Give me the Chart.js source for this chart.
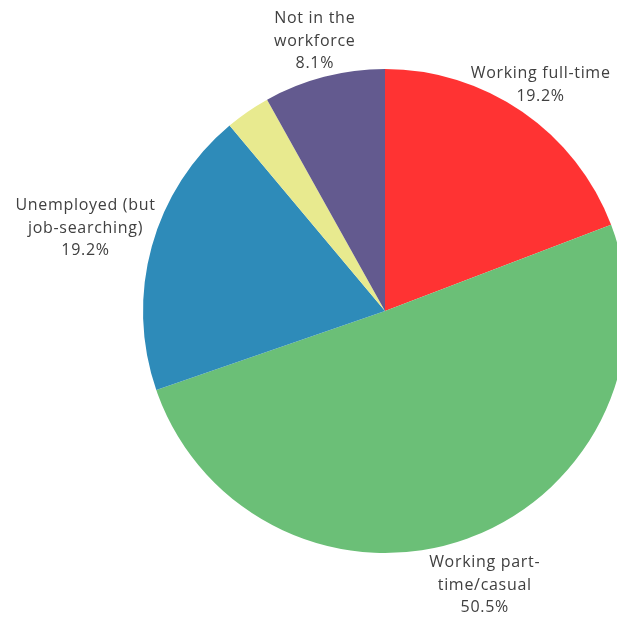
<!doctype html>
<html>

<head>
	<title>Employment status</title>
	<script src="https://cdn.jsdelivr.net/npm/chart.js@4/dist/chart.umd.min.js"></script>
	<style>
		html, body {
			margin: 0;
			padding: 0;
			overflow: hidden;
			background: #fff;
		}
		#wrap {
			position: relative;
			width: 770px;
			height: 618px;
		}
	</style>
</head>

<body>
	<div id="wrap">
		<canvas id="canvas"></canvas>
	</div>
	<script>
		const categories = ['Working full-time', 'Working part-time/casual', 'Unemployed (but job-searching)', 'Other', 'Not in the workforce'];
		const shares = [19.2, 50.5, 19.2, 3.0, 8.1];
		const labelLines = [
			['Working full-time'],
			['Working part-', 'time/casual'],
			['Unemployed (but', 'job-searching)'],
			[],
			['Not in the', 'workforce']
		];
		const sliceColors = ['#FF3333', '#6BBF77', '#2E8BB9', '#E8EA8F', '#635A8F'];
		// distance (px) between the pie edge and each label box
		const labelGaps = [5, 14, -4, 0, 2];

		// draws the category + percent label outside each slice, centred on its mid-angle ray
		const outsideLabels = {
			id: 'outsideLabels',
			afterDatasetsDraw(chart) {
				const ctx = chart.ctx;
				const meta = chart.getDatasetMeta(0);
				const lineH = 22.5;
				ctx.save();
				ctx.font = '16px "Open Sans", "Noto Sans", sans-serif';
				ctx.letterSpacing = '0.7px';
				ctx.fillStyle = '#404040';
				ctx.textAlign = 'center';
				ctx.textBaseline = 'middle';
				meta.data.forEach((arc, i) => {
					if (!labelLines[i].length) return;
					const p = arc.getProps(['x', 'y', 'startAngle', 'endAngle', 'outerRadius'], true);
					const mid = (p.startAngle + p.endAngle) / 2;
					const dx = Math.cos(mid);
					const dy = Math.sin(mid);
					const lines = labelLines[i].concat([shares[i].toFixed(1) + '%']);
					const w = Math.max(...lines.map(l => ctx.measureText(l).width));
					const h = lines.length * lineH;
					const half = Math.min(
						Math.abs(dx) > 1e-6 ? (w / 2) / Math.abs(dx) : Infinity,
						Math.abs(dy) > 1e-6 ? (h / 2) / Math.abs(dy) : Infinity
					);
					const d = p.outerRadius + labelGaps[i] + half;
					const cx = p.x + dx * d;
					const cy = p.y + dy * d;
					lines.forEach((l, k) => {
						ctx.fillText(l, cx, cy - h / 2 + lineH * (k + 0.5));
					});
				});
				ctx.restore();
			}
		};

		const config = {
			type: 'pie',
			data: {
				labels: categories,
				datasets: [{
					data: shares,
					backgroundColor: sliceColors,
					borderWidth: 0
				}]
			},
			options: {
				responsive: true,
				maintainAspectRatio: false,
				animation: false,
				layout: {
					padding: { top: 69, bottom: 65, left: 0, right: 0 }
				},
				plugins: {
					legend: { display: false },
					tooltip: { enabled: false }
				}
			},
			plugins: [outsideLabels]
		};

		window.onload = function() {
			const ctx = document.getElementById('canvas').getContext('2d');
			window.myPie = new Chart(ctx, config);
		};
	</script>
</body>

</html>
